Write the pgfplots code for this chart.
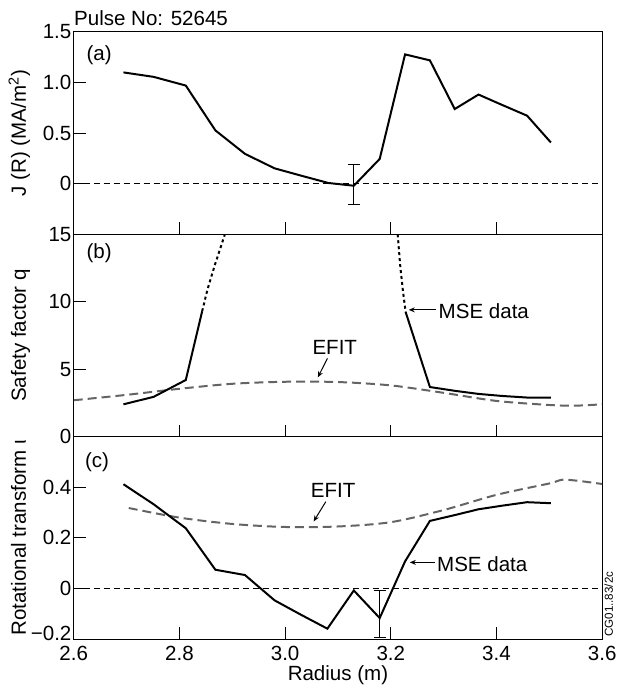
\documentclass[border=0pt]{standalone}
\usepackage{fontspec}
\setmainfont{Liberation Sans}
\usepackage{pgfplots}
\pgfplotsset{compat=1.18}
\usepgfplotslibrary{groupplots}
\usetikzlibrary{arrows.meta}

\definecolor{efitgray}{RGB}{100,100,100}

\pgfplotsset{
  mse/.style={black, line width=1pt},
  msedot/.style={black, line width=1pt, dash pattern=on 1.5pt off 1.5pt},
  efit/.style={efitgray, line width=1pt, dash pattern=on 4.5pt off 2.5pt},
  zeroline/.style={black, line width=0.5pt, dash pattern=on 3pt off 2pt},
  ebar/.style={black, draw=none,
    error bars/.cd, y dir=both, y explicit,
    error bar style={line width=0.5pt},
    error mark options={rotate=90, mark size=3pt, line width=0.5pt}},
}

\begin{document}
\fontsize{10.3}{12}\selectfont
\begin{tikzpicture}
\begin{groupplot}[
  group style={group size=1 by 3, vertical sep=0pt},
  width=265pt, height=101.5pt, scale only axis,
  xmin=2.6, xmax=3.6,
  xtick={2.6,2.8,3.0,3.2,3.4,3.6},
  tick align=inside, xtick pos=bottom, ytick pos=left,
  major tick length=6pt,
  axis line style={line width=0.5pt},
  tick style={line width=0.5pt, black},
  every y tick label/.append style={inner sep=1pt},
  every axis y label/.style={at={(axis description cs:-0.0906,0.5)}, rotate=90, anchor=base},
  every axis x label/.style={at={(axis description cs:0.5,0)}, anchor=base, yshift=-21pt},
  /pgf/number format/assume math mode=true,
  clip mode=individual,
]

% (a) current density
\nextgroupplot[ymin=-0.5, ymax=1.5,
  ytick={0,0.5,1,1.5}, yticklabels={0,0.5,1.0,1.5},
  xticklabels={},
  ylabel={J (R) (MA/m\textsuperscript{2})}]
\addplot[zeroline] coordinates {(2.6,0) (3.6,0)};
\addplot[mse] coordinates {
(2.694,1.10) (2.751,1.056) (2.812,0.97) (2.868,0.527) (2.924,0.295)
(2.980,0.152) (3.030,0.08) (3.082,0.007) (3.130,-0.02) (3.179,0.245)
(3.227,1.278) (3.274,1.219) (3.321,0.738) (3.366,0.881) (3.41,0.78)
(3.458,0.672) (3.503,0.407)};
\addplot[ebar] coordinates {(3.130,-0.02) += (0,0.21) -= (0,0.19)};
\node[anchor=center] at (axis cs:2.648,1.27) {(a)};
\node[anchor=base west, inner sep=0pt] at (rel axis cs:0,1.03) {Pulse No: 52645};

% (b) safety factor
\nextgroupplot[ymin=0, ymax=15,
  ytick={0,5,10,15}, yticklabels={0,5,10,15},
  xticklabels={},
  ylabel={Safety factor q}]
\addplot[efit, smooth] coordinates {
(2.6,2.7) (2.7,3.1) (2.8,3.55) (2.9,3.92) (3.0,4.07) (3.1,4.05)
(3.2,3.8) (3.3,3.25) (3.4,2.65) (3.5,2.35) (3.55,2.3) (3.6,2.4)};
\addplot[mse] coordinates {(2.694,2.4) (2.751,2.95) (2.812,4.2) (2.843,9.3)};
\addplot[msedot] coordinates {(2.843,9.3) (2.853,10.9) (2.866,12.6) (2.886,15)};
\addplot[msedot] coordinates {(3.213,15) (3.218,12.6) (3.223,10.8) (3.228,9.25)};
\addplot[mse] coordinates {
(3.228,9.25) (3.274,3.68) (3.321,3.4) (3.366,3.17) (3.41,3.02)
(3.458,2.9) (3.503,2.9)};
\node[anchor=center] at (axis cs:2.648,13.6) {(b)};
\node[anchor=west, inner sep=0pt] at (axis cs:3.29,9.3) {MSE data};
\draw[-{Stealth[length=3pt,width=2.5pt]}, line width=0.5pt] (axis cs:3.285,9.4) -- (axis cs:3.234,9.4);
\node[anchor=center] at (axis cs:3.094,6.64) {EFIT};
\draw[-{Stealth[length=3pt,width=2.5pt]}, line width=0.5pt] (axis cs:3.08,5.8) -- (axis cs:3.062,4.4);

% (c) rotational transform
\nextgroupplot[ymin=-0.2, ymax=0.6,
  ytick={-0.2,0,0.2,0.4}, yticklabels={\raisebox{3pt}[7.4pt][0pt]{−0.2},0,0.2,0.4},
  xticklabels={2.6,2.8,3.0,3.2,3.4,3.6},
  xlabel={Radius (m)},
  ylabel={Rotational transform ι}]
\addplot[zeroline] coordinates {(2.6,0) (3.6,0)};
\addplot[efit, smooth] coordinates {
(2.704,0.318) (2.8,0.28) (2.9,0.255) (3.0,0.243) (3.1,0.245) (3.2,0.262)
(3.3,0.31) (3.4,0.37) (3.5,0.415) (3.53,0.43) (3.6,0.413)};
\addplot[mse] coordinates {
(2.694,0.412) (2.751,0.333) (2.812,0.238) (2.868,0.074) (2.924,0.053)
(2.980,-0.047) (3.030,-0.104) (3.080,-0.159) (3.130,-0.008) (3.179,-0.117)
(3.227,0.107) (3.274,0.267) (3.321,0.29) (3.366,0.313) (3.41,0.327)
(3.458,0.341) (3.503,0.337)};
\addplot[ebar] coordinates {(3.179,-0.117) += (0,0.109) -= (0,0.075)};
\node[anchor=center] at (axis cs:2.644,0.5) {(c)};
\node[anchor=center] at (axis cs:3.091,0.389) {EFIT};
\draw[-{Stealth[length=3pt,width=2.5pt]}, line width=0.5pt] (axis cs:3.077,0.343) -- (axis cs:3.054,0.265);
\node[anchor=west, inner sep=0pt] at (axis cs:3.287,0.096) {MSE data};
\draw[-{Stealth[length=3pt,width=2.5pt]}, line width=0.5pt] (axis cs:3.283,0.103) -- (axis cs:3.236,0.103);
\node[rotate=90, anchor=north west, inner sep=1pt, font=\fontsize{5.8}{7}\selectfont] at (rel axis cs:1,0) {CG01..83/2c};
\end{groupplot}
% fix the page to the reference proportions
\path (group c1r3.south west) ++(-37pt,-25.5pt) coordinate (bbl);
\path (bbl) rectangle ++(309.5pt,346pt);
\end{tikzpicture}
\end{document}
